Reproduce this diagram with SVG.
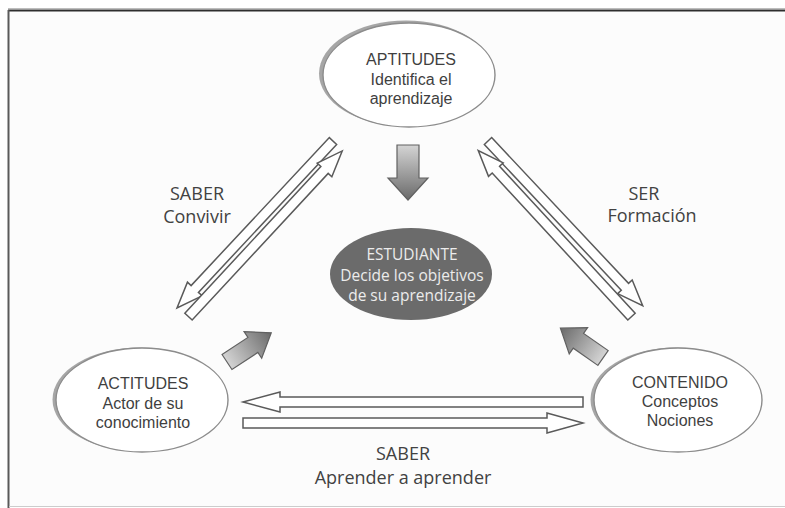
<svg xmlns="http://www.w3.org/2000/svg" width="785" height="508" viewBox="0 0 785 508">
<defs>
<linearGradient id="gblock" x1="0" y1="0" x2="1" y2="0">
<stop offset="0" stop-color="#d4d4d4"/>
<stop offset="0.55" stop-color="#9a9a9a"/>
<stop offset="1" stop-color="#6a6a6a"/>
</linearGradient>
<style>
.ell{fill:#ffffff;stroke:#8c8c8c;stroke-width:1.4}
.shade{fill:#a6a6a6}
.t{font-family:"Liberation Sans","Open Sans",sans-serif;font-size:16px;fill:#3f3f3f;text-anchor:middle}
.tw{font-family:"Open Sans","Noto Sans","Liberation Sans",sans-serif;font-size:15.5px;fill:#ececec;text-anchor:middle}
.lab{font-family:"Open Sans","Noto Sans","Liberation Sans",sans-serif;font-size:18px;fill:#424242;text-anchor:middle}
.oa{fill:#ffffff;stroke:#5a5a5a;stroke-width:1.5;stroke-linejoin:miter}
.ba{fill:url(#gblock);stroke:#616161;stroke-width:1.2}
</style>
</defs>
<rect x="0" y="0" width="785" height="508" fill="#ffffff"/>
<rect x="9" y="10" width="776" height="496" fill="#fcfcfc"/>
<line x1="8" y1="8.5" x2="785" y2="8.5" stroke="#bdbdbd" stroke-width="1"/>
<line x1="8" y1="10.5" x2="785" y2="10.5" stroke="#2e2e2e" stroke-width="2"/>
<line x1="8.5" y1="10" x2="8.5" y2="508" stroke="#5a5a5a" stroke-width="2"/>
<line x1="9" y1="506.5" x2="785" y2="506.5" stroke="#cccccc" stroke-width="1.2"/>

<g id="connectors">
<!-- left diagonal pair -->
<polygon class="oa" transform="translate(333,141) rotate(133.05)" points="0,-5 202.5,-5 202.5,-10 228.5,0 202.5,10 202.5,5 0,5"/>
<polygon class="oa" transform="translate(188.5,316.6) rotate(-47.15)" points="0,-5 200,-5 200,-10 226,0 200,10 200,5 0,5"/>
<!-- right diagonal pair -->
<polygon class="oa" transform="translate(488,141) rotate(46.8)" points="0,-5 200,-5 200,-10 226,0 200,10 200,5 0,5"/>
<polygon class="oa" transform="translate(631.5,316.6) rotate(-132.7)" points="0,-5 200,-5 200,-10 226,0 200,10 200,5 0,5"/>
<!-- bottom horizontal pair -->
<polygon class="oa" points="243,402 280,392 280,397 583,397 583,407 280,407 280,412"/>
<polygon class="oa" points="243,418 547,418 547,413 583,423 547,433 547,428 243,428"/>
<!-- block arrows toward centre -->
<polygon class="ba" transform="translate(408,145) rotate(90)" points="0,-11 33,-11 33,-20 55,0 33,20 33,11 0,11"/>
<polygon class="ba" transform="translate(227,362) rotate(-33.4)" points="0,-9 31,-9 31,-16 53,0 31,16 31,9 0,9"/>
<polygon class="ba" transform="translate(603,358) rotate(-145)" points="0,-9 30,-9 30,-16 52,0 30,16 30,9 0,9"/>
</g>

<g id="aptitudes">
<ellipse class="shade" cx="406" cy="73.5" rx="87" ry="53"/>
<ellipse class="ell" cx="409" cy="75" rx="86" ry="52"/>
<text class="t" x="411" y="65">APTITUDES</text>
<text class="t" x="411" y="85">Identifica el</text>
<text class="t" x="411" y="104">aprendizaje</text>
</g>

<g id="estudiante">
<ellipse cx="411" cy="274" rx="81" ry="46" fill="#6b6b6b"/>
<text class="tw" x="412" y="260">ESTUDIANTE</text>
<text class="tw" x="412" y="281">Decide  los objetivos</text>
<text class="tw" x="412" y="301">de  su aprendizaje</text>
</g>

<g id="actitudes">
<ellipse class="shade" cx="139.5" cy="399.5" rx="87" ry="52"/>
<ellipse class="ell" cx="142" cy="400" rx="86" ry="52"/>
<text class="t" x="143" y="389">ACTITUDES</text>
<text class="t" x="143" y="409">Actor de su</text>
<text class="t" x="143" y="428">conocimiento</text>
</g>

<g id="contenido">
<ellipse class="shade" cx="675.5" cy="399.5" rx="85" ry="52"/>
<ellipse class="ell" cx="678" cy="400" rx="84" ry="52"/>
<text class="t" x="680" y="388">CONTENIDO</text>
<text class="t" x="680" y="407">Conceptos</text>
<text class="t" x="680" y="426">Nociones</text>
</g>

<g id="labels">
<text class="lab" x="197" y="200">SABER</text>
<text class="lab" x="197" y="223">Convivir</text>
<text class="lab" x="644" y="200">SER</text>
<text class="lab" x="652" y="222">Formación</text>
<text class="lab" x="403" y="460">SABER</text>
<text class="lab" x="403" y="484">Aprender a aprender</text>
</g>
</svg>
